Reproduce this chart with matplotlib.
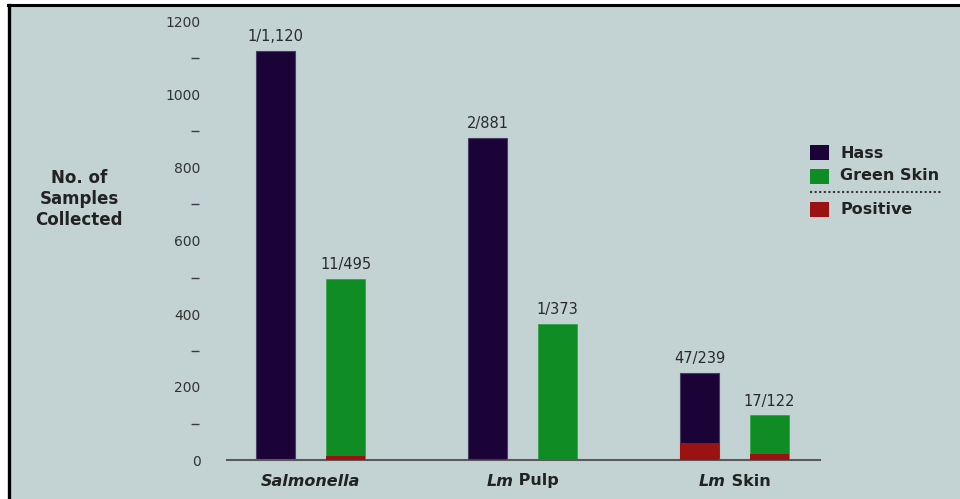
import matplotlib
matplotlib.use("Agg")
import matplotlib.pyplot as plt
from matplotlib.patches import Rectangle
from matplotlib.lines import Line2D
from matplotlib.transforms import blended_transform_factory, offset_copy
import numpy as np

# ---- data ----
categories = ["Salmonella", "Lm Pulp", "Lm Skin"]
hass_total = [1120, 881, 239]
green_total = [495, 373, 122]
hass_pos = [1, 2, 47]
green_pos = [11, 1, 17]
legend_labels = ["Hass", "Green Skin", "Positive"]
y_ticks = [0, 200, 400, 600, 800, 1000, 1200]
y_tick_labels = ["0", "200", "400", "600", "800", "1000", "1200"]
y_minor = [100, 300, 500, 700, 900, 1100]
ylabel = "No. of\nSamples\nCollected"

# ---- style ----
BG = "#c3d3d3"
C_HASS = "#1b0338"
C_GREEN = "#0f8c24"
C_POS = "#9b1212"
TXT = "#222222"
plt.rcParams["font.family"] = ["DejaVu Sans"]

W, H = 960, 499
fig = plt.figure(figsize=(W / 100, H / 100), dpi=100)
fig.patch.set_facecolor("white")


def fx(px):
    return px / W


def fy(py):
    return 1 - py / H


# background panel with black top/left border
fig.add_artist(Rectangle((fx(9), 0), 1 - fx(9), fy(5), transform=fig.transFigure,
                         facecolor=BG, edgecolor="none", zorder=-10))
fig.add_artist(Line2D([fx(8), 1], [fy(5), fy(5)], transform=fig.transFigure,
                      color="black", lw=2.2))
fig.add_artist(Line2D([fx(9), fx(9)], [0, fy(5)], transform=fig.transFigure,
                      color="black", lw=2.4))

ax = fig.add_axes([fx(227), fy(460), fx(820) - fx(227), fy(22) - fy(460)])
ax.set_facecolor("none")

x = np.arange(len(categories))
off = 0.165
w = 0.184
ax.bar(x - off, hass_total, w, color=C_HASS, edgecolor="#4a3d66", lw=0.8, zorder=2)
ax.bar(x + off, green_total, w, color=C_GREEN, edgecolor="#2aa040", lw=0.5, zorder=2)
ax.bar(x - off, hass_pos, w, color=C_POS, lw=0, zorder=3)
ax.bar(x + off, green_pos, w, color=C_POS, lw=0, zorder=3)

for xi, t, p in zip(x - off, hass_total, hass_pos):
    ax.annotate(f"{p}/{t:,}", (xi, t), xytext=(0, 5), textcoords="offset points",
                ha="center", va="bottom", fontsize=10.5, color="#2a2a2a")
for xi, t, p in zip(x + off, green_total, green_pos):
    ax.annotate(f"{p}/{t:,}", (xi, t), xytext=(0, 5), textcoords="offset points",
                ha="center", va="bottom", fontsize=10.5, color="#2a2a2a")

ax.set_xlim(-0.394, 2.403)
ax.set_ylim(0, 1200)
for s in ["top", "right", "left"]:
    ax.spines[s].set_visible(False)
ax.spines["bottom"].set_color("#5a5a5a")
ax.spines["bottom"].set_linewidth(1.5)
ax.set_xticks([])
ax.set_yticks(y_ticks, y_tick_labels)
ax.tick_params(axis="y", length=0, pad=19, labelsize=10, labelcolor="#333333")

# dash marks between the labelled ticks
ax.plot(np.full(len(y_minor), -0.054), y_minor, ls="none", marker="_",
        ms=5.5, mew=1.0, color="#3a3a3a", transform=ax.get_yaxis_transform(),
        clip_on=False)

# y label
fig.text(fx(79), fy(199), ylabel, ha="center", va="center", fontsize=12,
         fontweight="bold", color=TXT, linespacing=1.22)

# category labels (italic organism names)
renderer = fig.canvas.get_renderer()
trans = blended_transform_factory(ax.transData, fig.transFigure)
ycat = fy(481)
for xi, cat in zip(x, categories):
    if cat.startswith("Lm "):
        parts = [("Lm", "italic"), (cat[2:], "normal")]
    else:
        parts = [(cat, "italic")]
    texts = []
    for s, st in parts:
        t = ax.text(xi, ycat, s, transform=trans, ha="left", va="center",
                    fontsize=11.5, fontweight="bold", style=st, color=TXT)
        texts.append(t)
    widths = [t.get_window_extent(renderer).width for t in texts]
    total = sum(widths)
    cur = -total / 2
    for t, wd in zip(texts, widths):
        t.set_transform(offset_copy(trans, fig=fig, x=cur, y=0, units="dots"))
        cur += wd

# legend (manual)
colors = [C_HASS, C_GREEN, C_POS]
rows = [153, 176, 210]
for lab, c, r in zip(legend_labels, colors, rows):
    fig.add_artist(Rectangle((fx(810), fy(r + 7.5)), fx(19), 15 / H,
                             transform=fig.transFigure, facecolor=c,
                             edgecolor="none"))
    fig.text(fx(840), fy(r), lab, ha="left", va="center", fontsize=11.5,
             fontweight="bold", color=TXT)
fig.add_artist(Line2D([fx(810), fx(942)], [fy(192), fy(192)], transform=fig.transFigure,
                      color="#333333", lw=1.5, ls=(0, (1, 1.2))))

fig.savefig("out.png", dpi=100, facecolor=fig.get_facecolor())
